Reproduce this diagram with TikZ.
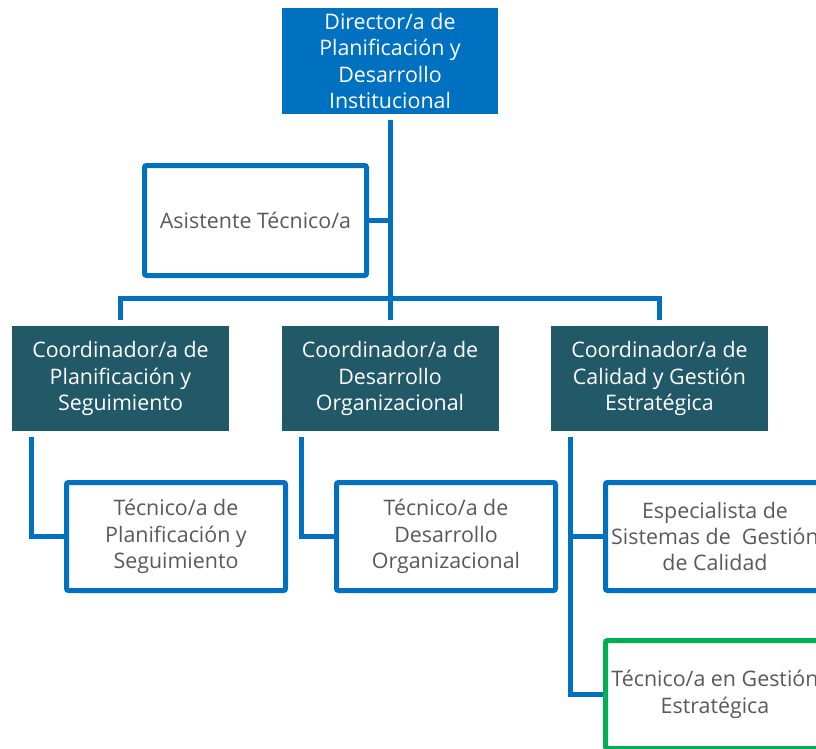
\documentclass[tikz,border=0pt]{standalone}
\usepackage{fontspec}
\setmainfont{Open Sans}
\usetikzlibrary{positioning}
\definecolor{azul}{HTML}{0070C0}
\definecolor{petroleo}{HTML}{215968}
\definecolor{gristexto}{HTML}{595959}
\definecolor{verde}{HTML}{00B050}
\tikzset{
  txt/.style={align=center, font=\fontsize{21.4}{26.3}\selectfont, inner sep=0pt},
  jefe/.style={txt, fill=azul, text=white, minimum width=216pt, minimum height=106pt},
  coord/.style={txt, fill=petroleo, text=white, minimum width=217pt, minimum height=105pt},
  puesto/.style={txt, draw=azul, line width=5pt, rounded corners=2pt, text=gristexto, minimum width=219pt, minimum height=108pt},
  linea/.style={azul, line width=5pt},
}
\begin{document}
\begin{tikzpicture}[x=1pt,y=-1pt]
\useasboundingbox (0,0) rectangle (816,748);
\clip (0,0) rectangle (816,748);
    % director y asistente
    \node[jefe] (dir) at (390,61) {Director/a de\\Planificación y\\Desarrollo\\Institucional};
    \node[puesto, minimum width=222pt, minimum height=110pt] (asis) at (255.5,220.5) {Asistente Técnico/a};
    % coordinaciones
    \node[coord] (co1) at (120.5,378.5) {Coordinador/a de\\Planificación y\\Seguimiento};
    \node[coord] (co2) at (390,378.5) {Coordinador/a de\\Desarrollo\\Organizacional};
    \node[coord] (co3) at (659.5,378.5) {Coordinador/a de\\Calidad y Gestión\\Estratégica};
    % puestos tecnicos
    \node[puesto] (tec1) at (176,536.5) {Técnico/a de\\Planificación y\\Seguimiento};
    \node[puesto] (tec2) at (446,536.5) {Técnico/a de\\Desarrollo\\Organizacional};
    \node[puesto] (esp) at (715,536.5) {Especialista de\\Sistemas de \ Gestión\\de Calidad};
    \node[puesto, draw=verde] (tge) at (715,694.5) {Técnico/a en Gestión\\Estratégica};
    % conectores
    \coordinate (bus) at (390,298);
    \draw[linea] ([yshift=-6pt]dir.south) -- ([yshift=6pt]co2.north);
    \draw[linea] (asis.east) -- (asis.east -| dir.south);
    \draw[linea] ([yshift=6pt]co1.north) |- (bus) -| ([yshift=6pt]co3.north);
    \draw[linea] ([xshift=20pt,yshift=-6pt]co1.south west) |- (tec1.west);
    \draw[linea] ([xshift=20pt,yshift=-6pt]co2.south west) |- (tec2.west);
    \coordinate (rama3) at ([xshift=20pt,yshift=-6pt]co3.south west);
    \draw[linea] (rama3) |- (tge.west);
    \draw[linea] (rama3 |- esp.west) -- (esp.west);
\end{tikzpicture}
\end{document}
